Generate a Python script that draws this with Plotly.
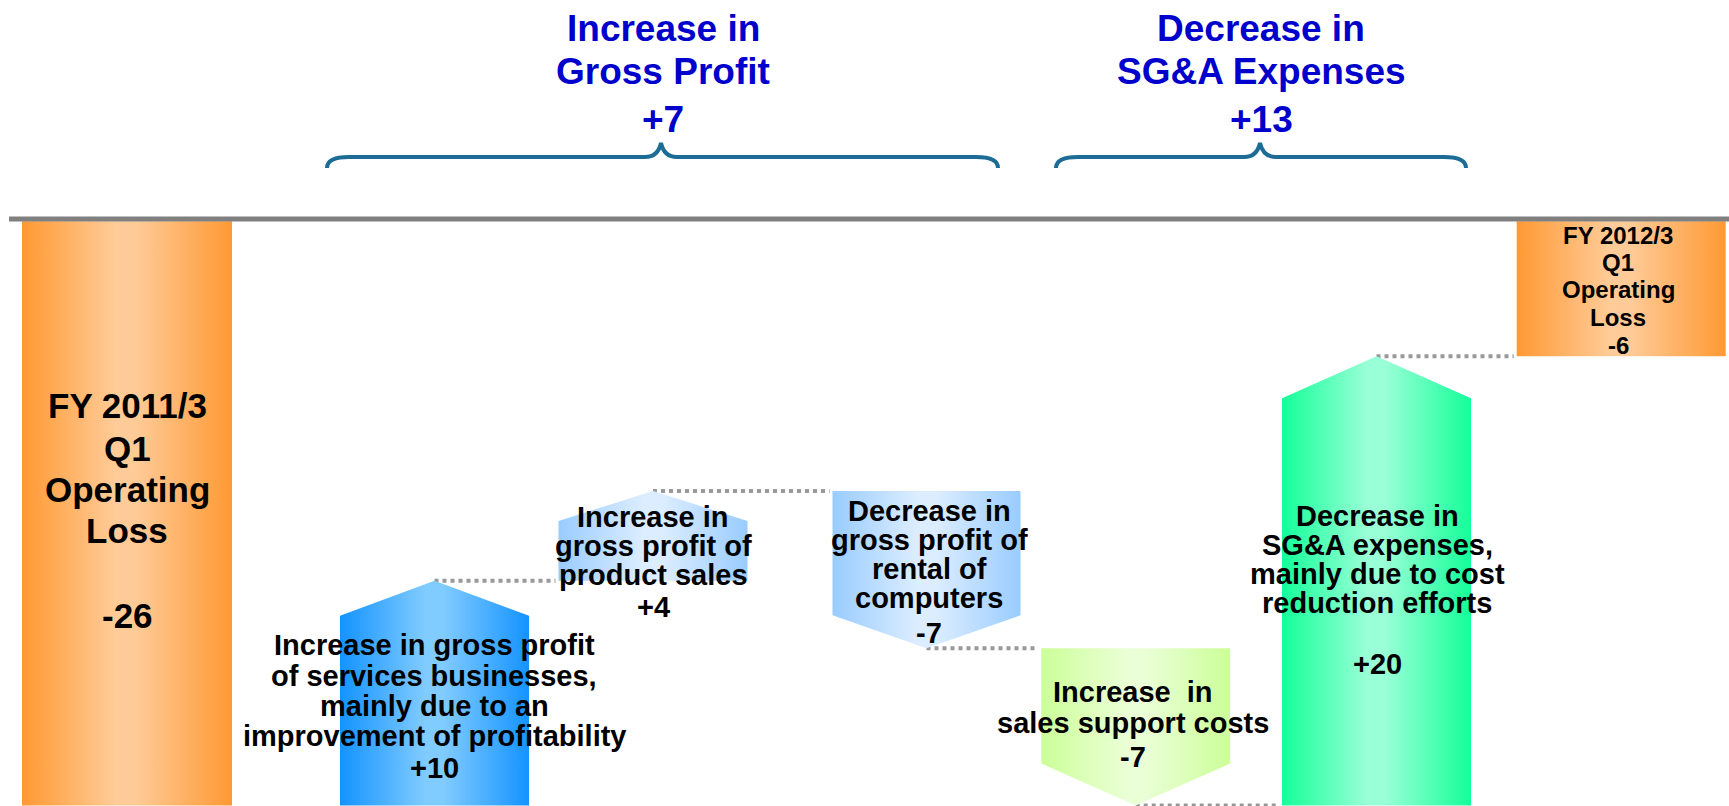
import plotly.graph_objects as go

# ------------------------------------------------------------------ data
start_label = ["FY 2011/3", "Q1", "Operating", "Loss"]
start_value = -26

step_labels = [
    ["Increase in gross profit", "of services businesses,", "mainly due to an",
     "improvement of profitability"],
    ["Increase in", "gross profit of", "product sales"],
    ["Decrease in", "gross profit of", "rental of", "computers"],
    ["Increase\u00a0 in", "sales support costs"],
    ["Decrease in", "SG&A expenses,", "mainly due to cost", "reduction efforts"],
]
step_values = [10, 4, -7, -7, 20]

end_label = ["FY 2012/3", "Q1", "Operating", "Loss"]
end_value = -6

group_titles = [["Increase in", "Gross Profit"], ["Decrease in", "SG&A Expenses"]]
group_members = [[0, 1, 2], [3, 4]]

# running totals (waterfall)
bases, tops = [], []
run = start_value
for v in step_values:
    bases.append(run)
    run += v
    tops.append(run)
group_values = [sum(step_values[i] for i in g) for g in group_members]

# ------------------------------------------------------------------ layout / style
W, H = 1729, 806
YMIN, YMAX = -26.02, 9.85
UNIT = (YMAX - YMIN) / H          # data units per pixel


def ypx(p):                       # pixel row -> data y
    return YMAX - p * UNIT


def paper(p):                     # pixel row -> paper y
    return 1 - p / H


FONT = "Liberation Sans, Arial, Helvetica, sans-serif"
X_CENTERS = [127, 434.5, 653, 926.5, 1135.7, 1376.5, 1621.2]
WIDTHS = [210, 189, 189, 188, 189, 189, 209]
HEAD_PX = [35, 30, 33, 42, 42]

ORANGE = [[0, "#FF9933"], [0.45, "#FFCC99"], [0.55, "#FECA96"], [1, "#FF9933"]]
STEP_SCALES = [
    [[0, "#1493FF"], [0.45, "#80CBFF"], [0.55, "#80CBFF"], [1, "#1493FF"]],
    [[0, "#99CCFF"], [0.45, "#DCEDFF"], [0.55, "#DCEDFF"], [1, "#99CCFF"]],
    [[0, "#99CCFF"], [0.45, "#DCEDFF"], [0.55, "#DCEDFF"], [1, "#99CCFF"]],
    [[0, "#CCFF99"], [0.45, "#EAFFD6"], [0.55, "#EAFFD6"], [1, "#CCFF99"]],
    [[0, "#14FF99"], [0.45, "#99FFD6"], [0.55, "#99FFD6"], [1, "#14FF99"]],
]

# text rows (pixel centres) for every block: label lines followed by the value
START_TEXT = dict(x=127, rows=[405.6, 448, 490, 530.5, 615.5], size=35)
STEP_TEXT = [
    dict(x=434, rows=[645, 675.5, 706, 736, 768], size=29),
    dict(x=653, rows=[517, 546, 575, 606.7], size=29),
    dict(x=929, rows=[510.5, 539.5, 568.5, 597.5, 633], size=29),
    dict(x=1133, rows=[691.7, 723, 756.7], size=29),
    dict(x=1377, rows=[515.5, 544.5, 573.5, 602.5, 664], size=29),
]
END_TEXT = dict(x=1618, rows=[235, 262.5, 290, 317.5, 345], size=24)
TITLE_TEXT = [dict(x=663, rows=[28.5, 72, 120]), dict(x=1261, rows=[28.5, 72, 120])]
BRACES = [dict(x0=327, x1=998, xt=661), dict(x0=1056, x1=1466, xt=1260)]

fig = go.Figure()

# dotted connectors: from the tip of each step to the left edge of the next shape
for i in range(len(step_values)):
    x_from = X_CENTERS[i + 1]
    x_to = X_CENTERS[i + 2] - WIDTHS[i + 2] / 2 - 3
    fig.add_trace(go.Scatter(
        x=[x_from, x_to], y=[tops[i], tops[i]], mode="lines",
        line=dict(color="#999999", width=4, dash="dot"), hoverinfo="skip"))


def rect(xc, w, y0, y1, cs):
    fig.add_trace(go.Scatter(
        x=[xc - w / 2, xc + w / 2, xc + w / 2, xc - w / 2, xc - w / 2],
        y=[y0, y0, y1, y1, y0], mode="lines", fill="toself",
        line=dict(width=0), fillgradient=dict(type="horizontal", colorscale=cs),
        hoverinfo="skip"))


# opening and closing totals
rect(X_CENTERS[0], WIDTHS[0], 0, start_value, ORANGE)
rect(X_CENTERS[-1], WIDTHS[-1], 0, end_value, ORANGE)

# step arrows
for i, v in enumerate(step_values):
    xc, w = X_CENTERS[i + 1], WIDTHS[i + 1]
    L, R = xc - w / 2, xc + w / 2
    b, t = bases[i], tops[i]
    h = HEAD_PX[i] * UNIT
    if v > 0:   # arrow pointing up, tip at the new total
        xs = [L, L, xc, R, R, L]
        ys = [b, t - h, t, t - h, b, b]
    else:       # arrow pointing down, tip at the new total
        xs = [L, R, R, xc, L, L]
        ys = [b, b, t + h, t, t + h, b]
    fig.add_trace(go.Scatter(
        x=xs, y=ys, mode="lines", fill="toself", line=dict(width=0),
        fillgradient=dict(type="horizontal", colorscale=STEP_SCALES[i]),
        hoverinfo="skip"))

annotations = []


def add_block(lines, spec, size, color="black"):
    for txt, row in zip(lines, spec["rows"]):
        annotations.append(dict(
            x=spec["x"], xref="x", y=paper(row), yref="paper",
            text=f"<b>{txt}</b>", showarrow=False, xanchor="center", yanchor="middle",
            font=dict(family=FONT, size=size, color=color)))


add_block(start_label + [f"{start_value:d}"], START_TEXT, START_TEXT["size"])
for i, v in enumerate(step_values):
    add_block(step_labels[i] + [f"{v:+d}"], STEP_TEXT[i], STEP_TEXT[i]["size"])
add_block(end_label + [f"{end_value:d}"], END_TEXT, END_TEXT["size"])
for g, title in enumerate(group_titles):
    add_block(title + [f"{group_values[g]:+d}"], TITLE_TEXT[g], 37, "#0000CC")

shapes = []
# zero line (top of the waterfall)
shapes.append(dict(type="line", xref="x", yref="y", x0=9, x1=W, y0=ypx(219), y1=ypx(219),
                   line=dict(color="#808080", width=5), layer="above"))

# curly braces above the groups
Y_END, Y_LINE, Y_TIP = ypx(168), ypx(157), ypx(143)
for b in BRACES:
    x0, x1, xt = b["x0"], b["x1"], b["xt"]
    r, rt = 22, 16
    path = (f"M {x0},{Y_END} Q {x0},{Y_LINE} {x0 + r},{Y_LINE} "
            f"L {xt - rt},{Y_LINE} Q {xt - 3},{Y_LINE} {xt},{Y_TIP} "
            f"Q {xt + 3},{Y_LINE} {xt + rt},{Y_LINE} "
            f"L {x1 - r},{Y_LINE} Q {x1},{Y_LINE} {x1},{Y_END}")
    shapes.append(dict(type="path", xref="x", yref="y", path=path,
                       line=dict(color="#1C6C96", width=4)))

fig.update_layout(
    width=W, height=H, margin=dict(l=0, r=0, t=0, b=0),
    paper_bgcolor="white", plot_bgcolor="white", showlegend=False,
    xaxis=dict(range=[0, W], visible=False, fixedrange=True),
    yaxis=dict(range=[YMIN, YMAX], visible=False, fixedrange=True),
    annotations=annotations, shapes=shapes,
)

fig.write_html("out.html", config={"displayModeBar": False},
               post_script="document.body.style.margin='0';")
